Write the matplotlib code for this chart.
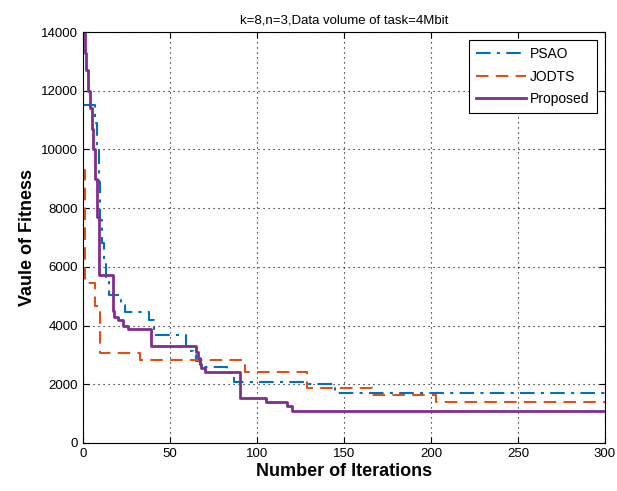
import matplotlib
matplotlib.use("Agg")
import matplotlib.pyplot as plt

plt.rcParams['font.family'] = ['Liberation Sans', 'DejaVu Sans']

# iteration at which each value starts (step curves)
psao_iter = [0, 7, 8, 9, 10, 11, 12, 13, 15, 22, 24, 38, 41, 59, 61, 63, 65, 67, 83, 87, 129, 145, 300]
psao_val = [11500, 10900, 10100, 8900, 7600, 6800, 6200, 5500, 5040, 4700, 4470, 4200, 3680,
            3300, 3150, 3000, 2800, 2600, 2380, 2090, 2020, 1710, 1710]

jodts_iter = [0, 1, 7, 10, 33, 93, 129, 166, 203, 300]
jodts_val = [9300, 5450, 4650, 3050, 2830, 2430, 1860, 1630, 1410, 1410]

prop_iter = [0, 1, 2, 3, 4, 5, 6, 7, 8, 9, 17, 18, 20, 23, 26, 39, 65, 66, 67, 68, 70,
             90, 105, 117, 120, 300]
prop_val = [14000, 13300, 12700, 12000, 11400, 10700, 10000, 9000, 7700, 5720, 4500, 4300,
            4200, 4000, 3870, 3300, 3100, 2900, 2700, 2550, 2430, 1520, 1410, 1250, 1100, 1100]

fig = plt.figure(figsize=(6.17, 4.91), dpi=100)
ax = fig.add_axes([0.1345, 0.0978, 0.846, 0.837])

ax.plot(psao_iter, psao_val, drawstyle='steps-post', color='#0072BD', lw=1.5,
        dashes=(7, 3, 1.5, 3), label='PSAO')
ax.plot(jodts_iter, jodts_val, drawstyle='steps-post', color='#D95319', lw=1.5,
        dashes=(6, 3.5), label='JODTS')
ax.plot(prop_iter, prop_val, drawstyle='steps-post', color='#7E2F8E', lw=2.0,
        label='Proposed')

ax.set_xlim(0, 300)
ax.set_ylim(0, 14000)
ax.set_xticks(range(0, 301, 50))
ax.set_yticks(range(0, 14001, 2000))
ax.grid(True, color='black', linestyle=(0, (1, 3.5)), lw=0.8)
ax.tick_params(direction='in', top=True, right=True, labelsize=9.5, length=4)
for s in ax.spines.values():
    s.set_linewidth(0.8)

ax.set_title('k=8,n=3,Data volume of task=4Mbit', fontsize=9.5, pad=6)
ax.set_xlabel('Number of Iterations', fontsize=13, fontweight='bold', labelpad=2)
ax.set_ylabel('Vaule of Fitness', fontsize=13, fontweight='bold', labelpad=4)

leg = ax.legend(loc='upper right', fontsize=10, fancybox=False, edgecolor='black',
                framealpha=1, handlelength=3.6, handletextpad=0.3,
                borderaxespad=0.6, labelspacing=0.6, borderpad=0.5)
leg.get_frame().set_linewidth(0.8)

fig.savefig('out.png', dpi=100)
